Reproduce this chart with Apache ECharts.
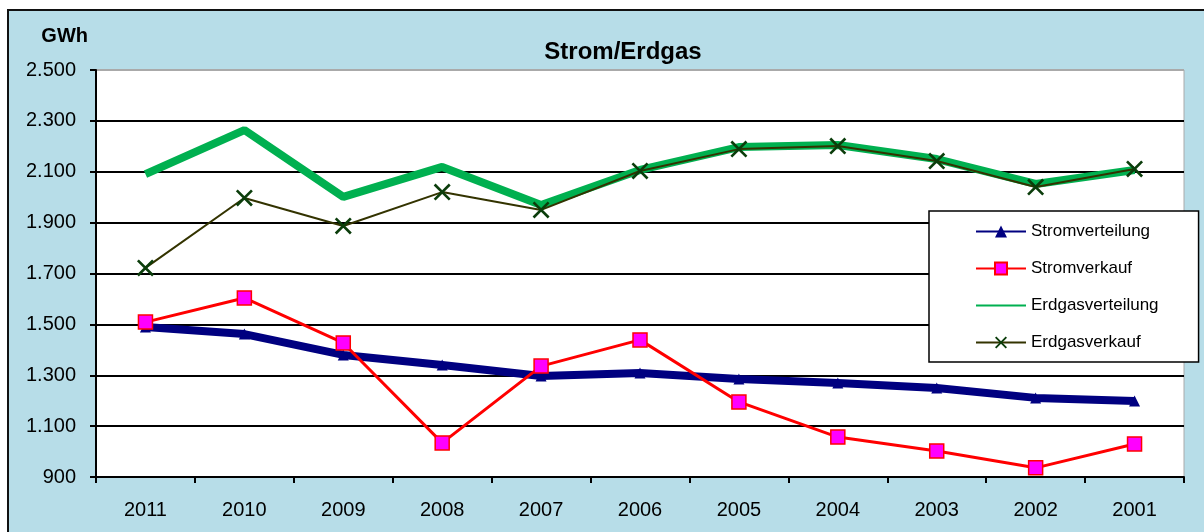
<!DOCTYPE html>
<html><head><meta charset="utf-8">
<script src="https://cdn.jsdelivr.net/npm/echarts@6/dist/echarts.min.js"></script>
<style>html,body{margin:0;padding:0;background:#fff}#c{width:1204px;height:532px}</style>
</head><body><div id="c"></div>
<script>
var categories = ['2011','2010','2009','2008','2007','2006','2005','2004','2003','2002','2001'];
var stromverteilung = [1490,1462,1380,1340,1297,1309,1285,1270,1250,1211,1199];
var stromverkauf = [1509,1604,1427,1034,1336,1439,1195,1057,1002,936,1030];
var erdgasverteilung = [2091,2264,2001,2119,1969,2107,2197,2205,2150,2052,2107];
var erdgasverkauf = [1722,1997,1887,2020,1950,2103,2189,2201,2142,2040,2111];
var seriesNames = ['Stromverteilung','Stromverkauf','Erdgasverteilung','Erdgasverkauf'];

var font = 'Liberation Sans, Arial, sans-serif';
function fmt(v){ return String(v).replace(/\B(?=(\d{3})+(?!\d))/g,'.'); }
var chart = echarts.init(document.getElementById('c'), null, {renderer:'canvas'});
var xPath = 'path://M0,1.1L1.1,0L10,8.9L8.9,10Z M8.9,0L10,1.1L1.1,10L0,8.9Z';
var plainLineIcon = 'path://M0,0H0.01V0.01H0Z M0,6.6H50V8.4H0Z M0,14.99H0.01V15H0Z';
chart.setOption({
  backgroundColor: '#fff',
  animation: false,
  graphic: [{type:'rect', shape:{x:8,y:10,width:1220,height:560}, style:{fill:'#b7dde8', stroke:'#111', lineWidth:2}, z:-10}],
  title: {text:'Strom/Erdgas', left:618, top:35, textAlign:'center', textStyle:{fontFamily:font, fontSize:24, fontWeight:'bold', color:'#000'}},
  legend: {
    orient:'vertical', left:929, top:211,
    backgroundColor:'#fff', borderColor:'#000', borderWidth:1.5,
    padding:[12,40,11,46], itemGap:20, itemWidth:50, itemHeight:15,
    lineStyle:{width:2},
    textStyle:{fontFamily:font, fontSize:17, color:'#000'},
    data: [
      {name:seriesNames[0]},
      {name:seriesNames[1]},
      {name:seriesNames[2], icon:plainLineIcon, itemStyle:{color:'#00b050'}},
      {name:seriesNames[3]}
    ]
  },
  grid: {left:96, top:70, right:20, bottom:55, show:true, backgroundColor:'#fff', borderColor:'#aaa', borderWidth:1},
  xAxis: {
    type:'category', data:categories, boundaryGap:true,
    axisLine:{lineStyle:{color:'#000', width:2}},
    axisTick:{show:true, length:6, lineStyle:{color:'#000', width:2}},
    axisLabel:{fontFamily:font, fontSize:20, color:'#000', margin:23}
  },
  yAxis: {
    type:'value', min:900, max:2500, interval:200,
    name:'GWh', nameLocation:'end', nameGap:24,
    nameTextStyle:{fontFamily:font, fontSize:20, fontWeight:'bold', color:'#000', align:'right', padding:[0,8,0,0]},
    axisLine:{show:true, lineStyle:{color:'#000', width:2}},
    axisTick:{show:true, length:6, lineStyle:{color:'#000', width:2}},
    axisLabel:{fontFamily:font, fontSize:20, color:'#000', margin:20, formatter:function(v){return fmt(v);}},
    splitLine:{show:true, lineStyle:{color:['#000','#000','#000','#000','#000','#000','#000','#000','#aaa'], width:2}}
  },
  series: [
    {name:seriesNames[0], type:'line', data:stromverteilung, symbol:'triangle', symbolSize:11,
     lineStyle:{color:'#000080', width:8}, itemStyle:{color:'#000080'}, z:2},
    {name:seriesNames[1], type:'line', data:stromverkauf, symbol:'rect', symbolSize:14,
     lineStyle:{color:'#ff0000', width:3}, itemStyle:{color:'#ff00ff', borderColor:'#ff0000', borderWidth:1.5}, z:3},
    {name:seriesNames[2], type:'line', data:erdgasverteilung, symbol:'none', showSymbol:false,
     lineStyle:{color:'#00b050', width:8}, itemStyle:{color:'#00b050'}, z:4},
    {name:seriesNames[3], type:'line', data:erdgasverkauf, symbol:xPath, symbolSize:17,
     lineStyle:{color:'#333300', width:2}, itemStyle:{color:'#0b3d0b'}, z:5}
  ]
});
</script></body></html>
